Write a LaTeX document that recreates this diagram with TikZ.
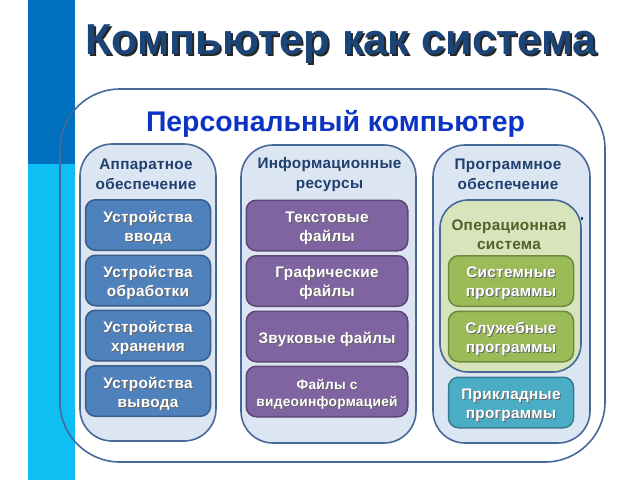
\documentclass[tikz,border=0pt]{standalone}
\usepackage{fontspec}
\setmainfont{Liberation Sans}
\newfontfamily\boldsp[LetterSpace=2,BoldFont={Liberation Sans Bold}]{Liberation Sans Bold}
\definecolor{barDark}{HTML}{0070C0}
\definecolor{barLight}{HTML}{0FBEF2}
\definecolor{lineBlue}{HTML}{47699A}
\definecolor{colFill}{HTML}{DCE6F2}
\definecolor{titleCol}{HTML}{1B4478}
\definecolor{subCol}{HTML}{0B33C4}
\definecolor{headCol}{HTML}{1F3F6E}
\definecolor{osText}{HTML}{4F6228}
\definecolor{osFill}{HTML}{D8E4BC}
\definecolor{blueFill}{HTML}{4F81BD}
\definecolor{blueLine}{HTML}{385D8A}
\definecolor{purFill}{HTML}{8064A2}
\definecolor{purLine}{HTML}{5C4776}
\definecolor{greenFill}{HTML}{9BBB59}
\definecolor{greenLine}{HTML}{71893F}
\definecolor{cyanFill}{HTML}{4BACC6}
\definecolor{cyanLine}{HTML}{357D91}
\newcommand{\shl}[1]{\leavevmode\raisebox{-3pt}[\height][\depth]{\rlap{\kern1pt\raisebox{-1pt}{\textcolor{black!60}{#1}}}#1}}
\newcommand{\shtitle}[1]{\leavevmode\rlap{\kern2pt\raisebox{-2pt}{\textcolor{black!85}{#1}}}#1}
\tikzset{
  panel/.style={draw=lineBlue,line width=1.6pt,rounded corners=#1,inner sep=0pt,outer sep=0pt},
  colbox/.style={panel=32pt,fill=colFill},
  item/.style={rounded corners=10pt,line width=1.5pt,inner sep=0pt,outer sep=0pt,text=white,align=center,font=\boldsp\fontsize{15.3}{19}\selectfont},
  bluebox/.style={item,fill=blueFill,draw=blueLine,minimum width=125pt,minimum height=50.5pt},
  purbox/.style={item,fill=purFill,draw=purLine,minimum width=161.5pt,minimum height=50.5pt},
  greenbox/.style={item,fill=greenFill,draw=greenLine,minimum width=125pt,minimum height=50.5pt},
  cyanbox/.style={item,fill=cyanFill,draw=cyanLine,minimum width=125pt,minimum height=50.5pt},
  head/.style={text=headCol,align=center,inner sep=0pt,font=\boldsp\fontsize{15.3}{20}\selectfont},
}
\begin{document}
\begin{tikzpicture}[x=1pt,y=-1pt]
\useasboundingbox (0,0) rectangle (640,480);
\fill[barDark] (28,0) rectangle (75,164);
\fill[barLight] (28,164) rectangle (75,480);
\node[panel=60pt,minimum width=545pt,minimum height=373pt] (outer) at (332.5,275.5) {};
\node[inner sep=0pt,text=titleCol,font=\fontsize{43.3}{47}\bfseries\selectfont] (title) at (341,45) {\shtitle{Компьютер как система}};
\node[inner sep=0pt,text=subCol,font=\fontsize{28.4}{32}\bfseries\selectfont] (sub) at (335.5,124) {Персональный компьютер};
\node[colbox,minimum width=136pt,minimum height=297pt] (c1) at (148,292.5) {};
\node[colbox,minimum width=175pt,minimum height=298pt] (c2) at (328.5,294) {};
\node[colbox,minimum width=157pt,minimum height=298pt] (c3) at (511.5,294) {};
\node[head] (h1) at (146,174.5) {Аппаратное\\обеспечение};
\node[head] (h2) at (329.5,174.5) {Информационные\\ресурсы};
\node[head] (h3) at (508,174.5) {Программное\\обеспечение};
\fill[headCol] (580.5,216.5) rectangle (582.5,220);
\node[panel=28pt,fill=osFill,minimum width=141pt,minimum height=172pt] (os) at (510.5,286) {};
\node[head,text=osText,font=\boldsp\fontsize{15.3}{18.5}\selectfont] (osl) at (509,234.5) {Операционная\\система};
\node[bluebox] (b1) at (148,225) {\shl{Устройства}\\\shl{ввода}};
\node[bluebox] (b2) at (148,280.5) {\shl{Устройства}\\\shl{обработки}};
\node[bluebox] (b3) at (148,335.5) {\shl{Устройства}\\\shl{хранения}};
\node[bluebox] (b4) at (148,391) {\shl{Устройства}\\\shl{вывода}};
\node[purbox] (p1) at (327,225.5) {\shl{Текстовые}\\\shl{файлы}};
\node[purbox] (p2) at (327,281) {\shl{Графические}\\\shl{файлы}};
\node[purbox] (p3) at (327,336.5) {\shl{Звуковые файлы}};
\node[purbox,font=\boldsp\fontsize{13.7}{17}\selectfont] (p4) at (327,391.5) {\shl{Файлы с}\\\shl{видеоинформацией}};
\node[greenbox] (g1) at (511,281) {\shl{Системные}\\\shl{программы}};
\node[greenbox] (g2) at (511,336.5) {\shl{Служебные}\\\shl{программы}};
\node[cyanbox] (k1) at (511,402.5) {\shl{Прикладные}\\\shl{программы}};
\end{tikzpicture}
\end{document}
